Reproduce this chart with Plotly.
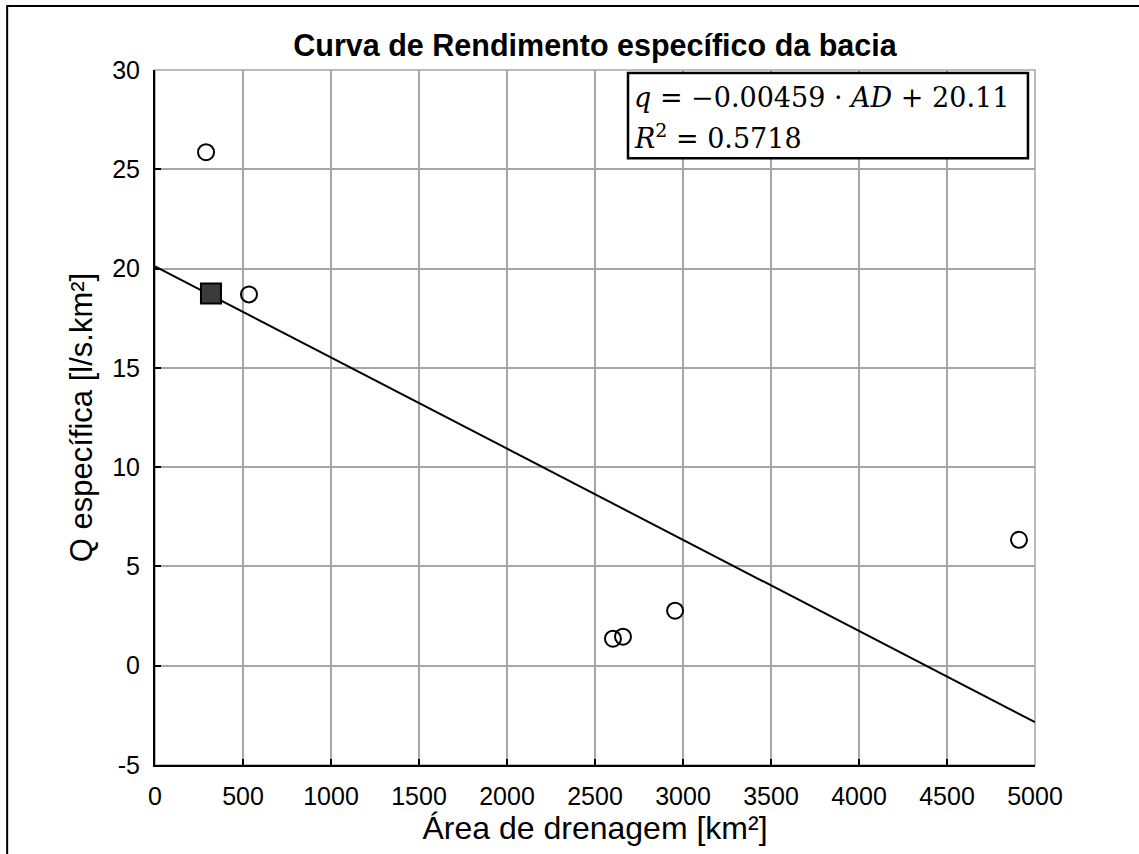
import plotly.graph_objects as go

# Observed stations: drainage area [km²] and specific discharge [l/s.km²]
area_km2 = [290, 534, 2602, 2659, 2955, 4909]
q_specific = [25.86, 18.7, 1.36, 1.46, 2.77, 6.34]

# Basin of interest (highlighted)
basin_area = [318]
basin_q = [18.74]

# Linear fit q = slope * AD + intercept
slope = -0.00459
intercept = 20.11
r_squared = 0.5718
fit_x = [0, 5000]
fit_y = [slope * x + intercept for x in fit_x]

x_ticks = [0, 500, 1000, 1500, 2000, 2500, 3000, 3500, 4000, 4500, 5000]
y_ticks = [-5, 0, 5, 10, 15, 20, 25, 30]

fig = go.Figure()

fig.add_trace(go.Scatter(
    x=fit_x, y=fit_y, mode="lines",
    line=dict(color="black", width=2), showlegend=False,
))
fig.add_trace(go.Scatter(
    x=area_km2, y=q_specific, mode="markers",
    marker=dict(symbol="circle-open", size=16, color="black", line=dict(width=2)),
    showlegend=False,
))
fig.add_trace(go.Scatter(
    x=basin_area, y=basin_q, mode="markers",
    marker=dict(symbol="square", size=20, color="#3a3a3a", line=dict(color="black", width=2)),
    showlegend=False,
))

grid = "#a6a6a6"
sans = "Liberation Sans, Arial"
fig.update_xaxes(
    range=[0, 5000], tickvals=x_ticks, ticktext=[str(v) for v in x_ticks],
    showgrid=True, gridcolor=grid, gridwidth=1.5,
    showline=True, linecolor="black", linewidth=2, mirror=False,
    ticks="inside", ticklen=6, tickcolor="black", tickwidth=2,
    ticklabelstandoff=8,
    zeroline=False,
    tickfont=dict(family=sans, size=25, color="black"),
    title=dict(text="Área de drenagem [km²]", standoff=6,
               font=dict(family=sans, size=32, color="black")),
)
fig.update_yaxes(
    range=[-5, 30], tickvals=y_ticks, ticktext=[str(v) for v in y_ticks],
    showgrid=True, gridcolor=grid, gridwidth=1.5,
    showline=True, linecolor="black", linewidth=2, mirror=False,
    ticks="inside", ticklen=6, tickcolor="black", tickwidth=2,
    ticklabelstandoff=8,
    zeroline=False,
    tickfont=dict(family=sans, size=25, color="black"),
    title=dict(text="Q específica [l/s.km²]", standoff=10,
               font=dict(family=sans, size=31, color="black")),
)

shapes = [
    # gray top/right border of the axes box
    dict(type="rect", xref="paper", yref="paper", x0=0, y0=0, x1=1, y1=1,
         line=dict(color=grid, width=1.5), layer="below"),
    # outer frame (left and top edges visible)
    dict(type="rect", xref="paper", yref="paper", x0=-0.168, y0=-0.5, x1=1.3, y1=1.092,
         line=dict(color="black", width=2)),
    # equation box
    dict(type="rect", xref="paper", yref="paper", x0=0.5375, y0=0.873, x1=0.992, y1=0.9957,
         line=dict(color="black", width=2.5), fillcolor="white", layer="above"),
]

eq_font = dict(family="DejaVu Serif, Liberation Serif, serif", size=27, color="black")
annotations = [
    dict(xref="paper", yref="paper", x=0.542, y=0.961, xanchor="left", yanchor="middle",
         showarrow=False, font=eq_font,
         text=f"<i>q</i> = −{abs(slope):.5f} · <i>AD</i> + {intercept:.2f}"),
    dict(xref="paper", yref="paper", x=0.542, y=0.905, xanchor="left", yanchor="middle",
         showarrow=False, font=eq_font,
         text=f"<i>R</i><sup>2</sup> = {r_squared:.4f}"),
]

fig.update_layout(
    width=1139, height=854,
    margin=dict(l=155, r=104, t=70, b=89),
    paper_bgcolor="white", plot_bgcolor="white",
    title=dict(text="<b>Curva de Rendimento específico da bacia</b>",
               x=0.5, xref="paper", xanchor="center", y=1 - 45 / 854, yanchor="middle",
               font=dict(family=sans, size=30.5, color="black")),
    shapes=shapes, annotations=annotations,
)

fig.write_html("out.html")
